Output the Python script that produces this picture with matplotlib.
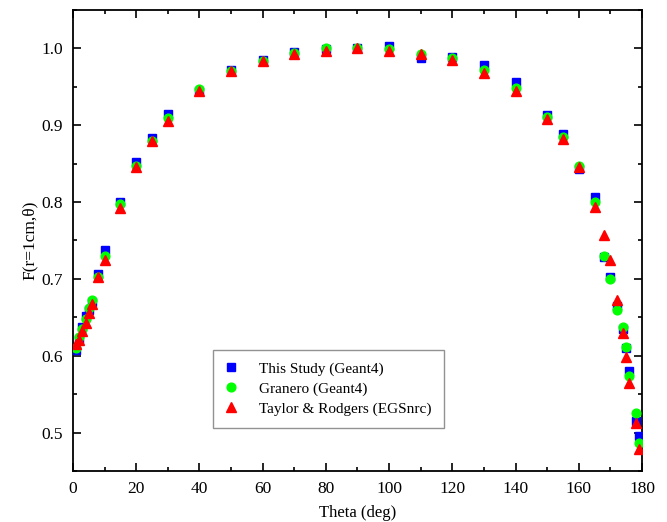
import matplotlib
matplotlib.use("Agg")
import matplotlib.pyplot as plt
from matplotlib.ticker import MultipleLocator

plt.rcParams['font.family'] = ['Liberation Serif', 'DejaVu Serif']

# angles (deg) and anisotropy function values F(r=1cm, theta)
theta = [1, 2, 3, 4, 5, 6, 8, 10, 15, 20, 25, 30, 40, 50, 60, 70, 80, 90,
         100, 110, 120, 130, 140, 150, 155, 160, 165, 168, 170, 172, 174,
         175, 176, 178, 179]
f_this = [0.607, 0.622, 0.638, 0.652, 0.660, 0.670, 0.707, 0.737, 0.800,
          0.852, 0.883, 0.914, 0.945, 0.972, 0.985, 0.995, 0.999, 1.000,
          1.003, 0.988, 0.989, 0.978, 0.956, 0.913, 0.888, 0.843, 0.806,
          0.728, 0.703, 0.665, 0.635, 0.610, 0.580, 0.515, 0.496]
f_granero = [0.610, 0.625, 0.635, 0.648, 0.662, 0.673, 0.703, 0.730, 0.797,
             0.847, 0.880, 0.910, 0.947, 0.970, 0.984, 0.994, 1.000, 1.001,
             0.999, 0.993, 0.987, 0.972, 0.949, 0.911, 0.885, 0.847, 0.800,
             0.730, 0.700, 0.659, 0.638, 0.611, 0.574, 0.525, 0.487]
f_taylor = [0.615, 0.620, 0.632, 0.642, 0.655, 0.667, 0.703, 0.724, 0.792,
            0.845, 0.879, 0.906, 0.945, 0.970, 0.983, 0.993, 0.997, 1.000,
            0.997, 0.993, 0.985, 0.968, 0.945, 0.908, 0.882, 0.845, 0.793,
            0.757, 0.724, 0.673, 0.630, 0.598, 0.565, 0.512, 0.479]

fig = plt.figure(figsize=(6.67, 5.22), dpi=100)
ax = fig.add_axes([0.1094, 0.0977, 0.8531, 0.8833])

ax.plot(theta, f_this, 's', color='#0000ff', ms=6.3, mec='#0000ff',
        label='This Study (Geant4)', zorder=3)
ax.plot(theta, f_granero, 'o', color='#00ff00', ms=6.3, mec='#00ff00',
        label='Granero (Geant4)', zorder=4)
ax.plot(theta, f_taylor, '^', color='#ff0000', ms=7, mec='#ff0000',
        label='Taylor & Rodgers (EGSnrc)', zorder=5)

ax.set_xlim(0, 180)
ax.set_ylim(0.45, 1.05)
ax.xaxis.set_major_locator(MultipleLocator(20))
ax.xaxis.set_minor_locator(MultipleLocator(10))
ax.yaxis.set_major_locator(MultipleLocator(0.1))
ax.yaxis.set_minor_locator(MultipleLocator(0.05))
ax.tick_params(which='both', direction='in', top=True, right=True,
               labelsize=12.5, width=1.2, pad=7)
ax.tick_params(which='major', length=6)
ax.tick_params(which='minor', length=3)
for s in ax.spines.values():
    s.set_linewidth(1.3)

ax.set_xlabel('Theta (deg)', fontsize=12, labelpad=6)
ax.set_ylabel('F(r=1cm,θ)', fontsize=12.5, labelpad=3)

leg = ax.legend(loc='lower left', bbox_to_anchor=(0.246, 0.093), fontsize=11,
                frameon=True, fancybox=False, edgecolor='#777777',
                handlelength=0.8, handletextpad=1.4, borderpad=0.8,
                labelspacing=0.4, borderaxespad=0)
leg.get_frame().set_linewidth(1.0)

fig.savefig('out.png', dpi=100)
